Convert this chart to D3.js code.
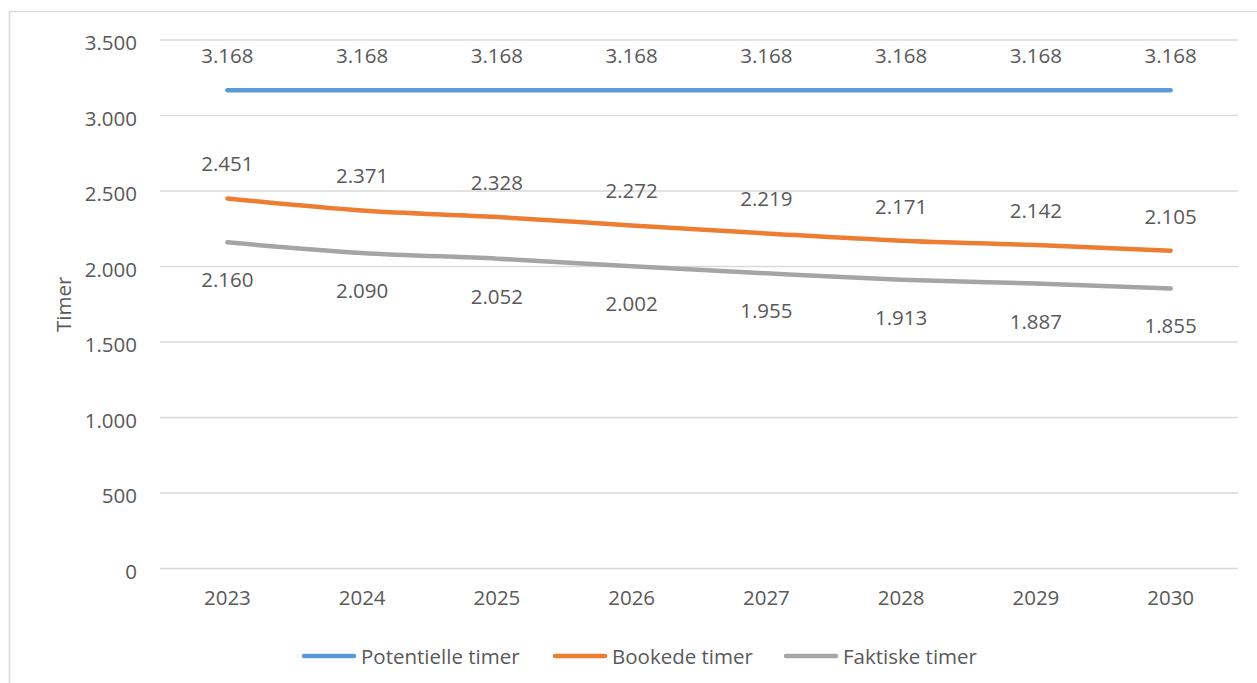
<!DOCTYPE html>
<html><head><meta charset="utf-8">
<script src="https://cdn.jsdelivr.net/npm/d3@7"></script>
<style>
html,body{margin:0;padding:0;background:#fff;}
svg{display:block;}
text{font-family:"Open Sans",sans-serif;fill:#595959;}
</style></head>
<body>
<svg id="chart" width="1257" height="683"></svg>
<script>
const years = ["2023","2024","2025","2026","2027","2028","2029","2030"];
const potentielle = [3168,3168,3168,3168,3168,3168,3168,3168];
const bookede = [2451,2371,2328,2272,2219,2171,2142,2105];
const faktiske = [2160,2090,2052,2002,1955,1913,1887,1855];
const yTicks = [0,500,1000,1500,2000,2500,3000,3500];
const seriesNames = ["Potentielle timer","Bookede timer","Faktiske timer"];
const colors = ["#5B9BD5","#ED7D31","#A5A5A5"];

(function(){
const svg = d3.select("#chart");
const fmt = v => d3.format(",")(v).replace(/,/g,".");
const FS = "20.5px";

// outer frame
svg.append("rect").attr("x",9.5).attr("y",11.5).attr("width",1300).attr("height",720)
  .attr("fill","none").attr("stroke","#D9D9D9").attr("stroke-width",1.5);

const pLeft=160, pRight=1238, pTop=40, pBottom=568.5;
const x = d3.scaleBand().domain(years).range([pLeft,pRight]);
const y = d3.scaleLinear().domain([0,3500]).range([pBottom,pTop]);

// gridlines
svg.append("g").selectAll("line").data(yTicks).join("line")
  .attr("x1",pLeft).attr("x2",pRight)
  .attr("y1",d=>y(d)).attr("y2",d=>y(d))
  .attr("stroke","#D9D9D9").attr("stroke-width",1.3);

// y axis labels
const yAxis = svg.append("g").attr("transform",`translate(${pLeft},3)`)
  .call(d3.axisLeft(y).tickValues(yTicks).tickSize(0).tickPadding(23).tickFormat(fmt));
yAxis.select(".domain").remove();
yAxis.selectAll("text").style("font-size",FS).attr("fill","#595959").style("font-family","'Open Sans',sans-serif");

// x axis labels
const xAxis = svg.append("g").attr("transform",`translate(0,${pBottom})`)
  .call(d3.axisBottom(x).tickSize(0).tickPadding(22));
xAxis.select(".domain").remove();
xAxis.selectAll("text").style("font-size",FS).attr("fill","#595959").style("font-family","'Open Sans',sans-serif");

// y title
svg.append("text").attr("transform",`translate(63,${(pTop+pBottom)/2}) rotate(-90)`)
  .attr("text-anchor","middle").attr("dominant-baseline","central").style("font-size",FS).text("Timer");

const cx = d => x(d)+x.bandwidth()/2;
const line = d3.line().x((d,i)=>cx(years[i])).y(d=>y(d)).curve(d3.curveMonotoneX);
const allSeries = [potentielle,bookede,faktiske];
allSeries.forEach((s,k)=>{
  svg.append("path").datum(s).attr("d",line).attr("fill","none")
    .attr("stroke",colors[k]).attr("stroke-width",4.5).attr("stroke-linecap","round").attr("stroke-linejoin","round");
});

// data labels
const offs = [-35,-35,37];
allSeries.forEach((s,k)=>{
  svg.append("g").selectAll("text").data(s).join("text")
    .attr("x",(d,i)=>cx(years[i])).attr("y",(d)=>y(d)+offs[k])
    .attr("text-anchor","middle").attr("dominant-baseline","central")
    .style("font-size",FS).text(d=>fmt(d));
});

// legend
const legX = [302,553,784];
const legY = 656;
seriesNames.forEach((n,k)=>{
  const g = svg.append("g");
  g.append("line").attr("x1",legX[k]+2).attr("x2",legX[k]+52).attr("y1",legY).attr("y2",legY)
    .attr("stroke",colors[k]).attr("stroke-width",4.5).attr("stroke-linecap","round");
  g.append("text").attr("x",legX[k]+59).attr("y",legY).attr("dominant-baseline","central")
    .style("font-size",FS).text(n);
});
})();
</script>
</body></html>
